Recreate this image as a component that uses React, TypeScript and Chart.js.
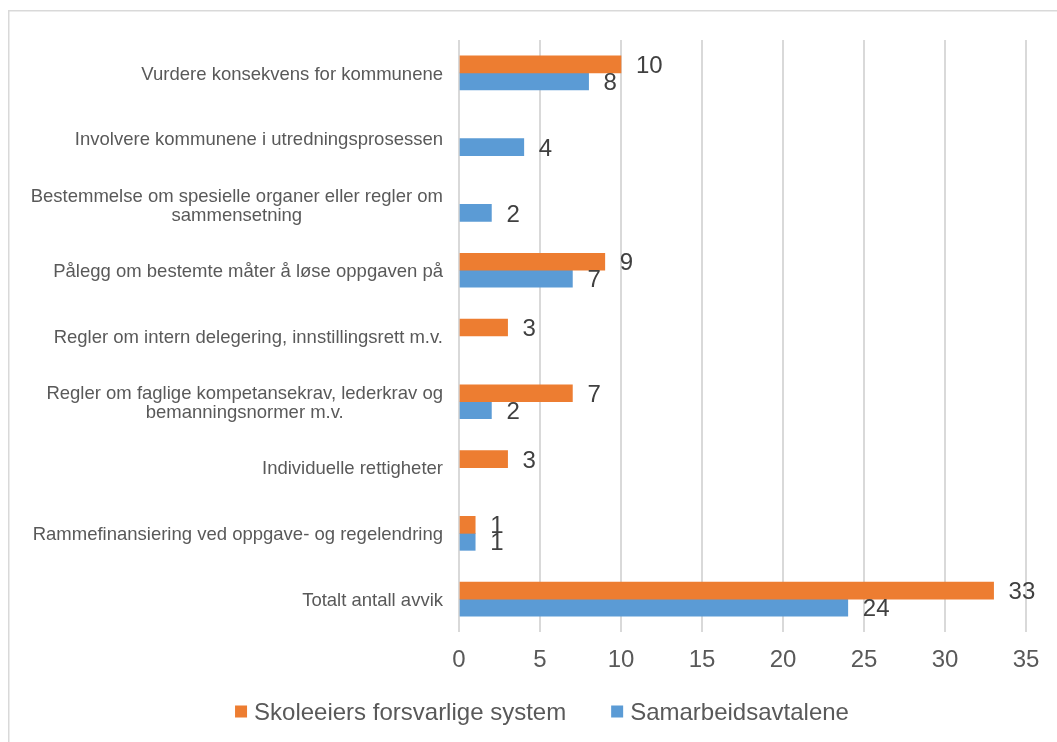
import React, { useEffect, useRef } from "react";
import { Chart, registerables } from "chart.js";

Chart.register(...registerables);

const categories: string[][] = [
  ["Vurdere konsekvens for kommunene"],
  ["Involvere kommunene i utredningsprosessen"],
  ["Bestemmelse om spesielle organer eller regler om", "sammensetning"],
  ["Pålegg om bestemte måter å løse oppgaven på"],
  ["Regler om intern delegering, innstillingsrett m.v."],
  ["Regler om faglige kompetansekrav, lederkrav og", "bemanningsnormer m.v."],
  ["Individuelle rettigheter"],
  ["Rammefinansiering ved oppgave- og regelendring"],
  ["Totalt antall avvik"],
];

const skoleeiers: (number | null)[] = [10, null, null, 9, 3, 7, 3, 1, 33];
const samarbeid: (number | null)[] = [8, 4, 2, 7, null, 2, null, 1, 24];

const seriesNames = ["Skoleeiers forsvarlige system", "Samarbeidsavtalene"];
const seriesColors = ["#ED7D31", "#5B9BD5"];

const xMin = 0;
const xMax = 35;
const xStep = 5;

const FONT = '"Liberation Sans", Arial, sans-serif';

export default function App() {
  const ref = useRef<HTMLCanvasElement | null>(null);

  useEffect(() => {
    const canvas = ref.current;
    if (!canvas) return;

    const framePlugin = {
      id: "frame",
      beforeDraw(chart: any) {
        const ctx = chart.ctx;
        ctx.save();
        ctx.fillStyle = "#ffffff";
        ctx.fillRect(0, 0, chart.width, chart.height);
        ctx.strokeStyle = "#d9d9d9";
        ctx.lineWidth = 1.5;
        ctx.strokeRect(8.75, 10.75, 3000, 3000);
        ctx.restore();
      },
    };

    const catLabelPlugin = {
      id: "catLabels",
      afterDraw(chart: any) {
        const ctx = chart.ctx;
        const yScale = chart.scales.y;
        const size = 18.5;
        const lh = 19;
        const capH = 0.716 * size;
        const right = 443;
        ctx.save();
        ctx.font = `${size}px ${FONT}`;
        ctx.fillStyle = "#595959";
        ctx.textAlign = "center";
        ctx.textBaseline = "alphabetic";
        categories.forEach((lines, i) => {
          const yc = yScale.getPixelForValue(i);
          const maxW = Math.max(...lines.map((l) => ctx.measureText(l).width));
          const cx = right - maxW / 2;
          const n = lines.length;
          lines.forEach((line, j) => {
            const y = yc + capH / 2 + (j - (n - 1) / 2) * lh;
            ctx.fillText(line, cx, y);
          });
        });
        ctx.restore();
      },
    };

    const valueLabelPlugin = {
      id: "valueLabels",
      afterDatasetsDraw(chart: any) {
        const ctx = chart.ctx;
        const size = 24;
        ctx.save();
        ctx.font = `${size}px ${FONT}`;
        ctx.fillStyle = "#404040";
        ctx.textAlign = "left";
        ctx.textBaseline = "alphabetic";
        chart.data.datasets.forEach((ds: any, di: number) => {
          const meta = chart.getDatasetMeta(di);
          meta.data.forEach((el: any, i: number) => {
            const v = ds.data[i];
            if (v === null || v === undefined) return;
            ctx.fillText(String(v), el.x + 15, el.y + 0.358 * size);
          });
        });
        ctx.restore();
      },
    };

    const legendPlugin = {
      id: "customLegend",
      afterDraw(chart: any) {
        const ctx = chart.ctx;
        const size = 24;
        const box = 12;
        const gapBox = 7;
        const gapItem = 45;
        const cy = 711.5;
        ctx.save();
        ctx.font = `${size}px ${FONT}`;
        const widths = seriesNames.map((n) => ctx.measureText(n).width);
        const total =
          widths.reduce((a, b) => a + b, 0) + seriesNames.length * (box + gapBox) + gapItem * (seriesNames.length - 1);
        let x = 542 - total / 2;
        ctx.textAlign = "left";
        ctx.textBaseline = "alphabetic";
        seriesNames.forEach((name, i) => {
          ctx.fillStyle = seriesColors[i];
          ctx.fillRect(x, cy - box / 2, box, box);
          x += box + gapBox;
          ctx.fillStyle = "#595959";
          ctx.fillText(name, x, cy + 0.358 * size);
          x += widths[i] + gapItem;
        });
        ctx.restore();
      },
    };

    const chart = new Chart(canvas, {
      type: "bar",
      data: {
        labels: categories.map((c) => c.join(" ")),
        datasets: [
          {
            label: seriesNames[0],
            data: skoleeiers as any,
            backgroundColor: seriesColors[0],
            barThickness: 17,
          },
          {
            label: seriesNames[1],
            data: samarbeid as any,
            backgroundColor: seriesColors[1],
            barThickness: 17,
          },
        ],
      },
      options: {
        indexAxis: "y",
        responsive: false,
        animation: false,
        devicePixelRatio: 1,
        layout: { padding: { left: 459, right: 31, top: 40, bottom: 0 } },
        plugins: {
          legend: { display: false },
          tooltip: { enabled: false },
        },
        scales: {
          y: {
            type: "category",
            display: false,
          },
          x: {
            type: "linear",
            position: "bottom",
            min: xMin,
            max: xMax,
            ticks: {
              stepSize: xStep,
              color: "#595959",
              font: { family: FONT, size: 24 },
              padding: 14,
            },
            grid: {
              color: "#d9d9d9",
              lineWidth: 2,
              drawTicks: false,
            },
            border: { display: false },
            afterFit(scale: any) {
              scale.height = 110;
            },
          },
        },
      },
      plugins: [framePlugin, catLabelPlugin, valueLabelPlugin, legendPlugin],
    });

    return () => chart.destroy();
  }, []);

  return (
    <div style={{ position: "absolute", left: 0, top: 0, width: 1057, height: 742, overflow: "hidden" }}>
      <canvas ref={ref} width={1057} height={742} style={{ display: "block", width: 1057, height: 742 }} />
    </div>
  );
}
